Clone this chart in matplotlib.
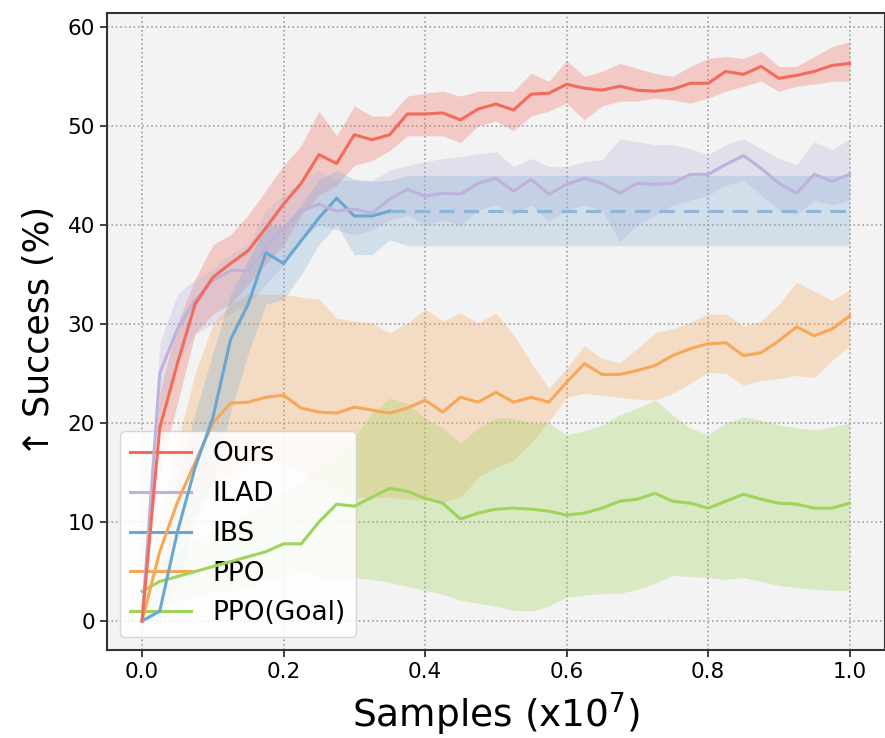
import matplotlib
matplotlib.use("Agg")
import matplotlib.pyplot as plt
import numpy as np

# sample grid, x1e7 (41 evaluation points)
samples = np.linspace(0.0, 1.0, 41)

ours = [0, 19.5, 26, 32, 34.7, 36.1, 37.4, 39.7, 42.1, 44.2, 47.1, 46.2, 49.1, 48.6,
        49.1, 51.2, 51.2, 51.3, 50.6, 51.7, 52.2, 51.6, 53.2, 53.3, 54.2, 53.8, 53.6,
        54.0, 53.6, 53.5, 53.7, 54.3, 54.3, 55.5, 55.2, 56.0, 54.8, 55.1, 55.5, 56.1, 56.3]
ours_lo = [0, 15, 22, 29, 31, 32, 34, 36, 38, 41, 43, 44, 46, 46.5, 47.5, 49, 49, 49,
           48.3, 50, 50.5, 49.5, 51, 51.5, 52.3, 50.6, 52, 52.5, 52.5, 52.8, 52.6, 52.3,
           52.8, 53.5, 54, 54.5, 53.5, 54, 54.2, 54.5, 54.5]
ours_hi = [0, 23, 30, 34.5, 38, 39, 41, 43.5, 46, 48, 51.5, 49, 52, 51, 51, 53, 53.3,
           53.5, 53, 53.5, 53.5, 53.5, 55.3, 54.5, 56.6, 55, 55.5, 56.3, 55.8, 55.3, 55,
           56, 56.8, 57, 56.8, 57.5, 56, 56, 57, 58, 58.5]

ilad = [0, 25, 29.5, 32.4, 34.4, 35.4, 35.4, 37.7, 39.7, 41.4, 42.1, 41.4, 41.6, 41.2,
        42.6, 43.6, 42.9, 43.2, 43.1, 44.2, 44.7, 43.4, 44.6, 43.1, 44.1, 44.7, 44.2,
        43.2, 44.2, 44.1, 44.2, 45.1, 45.1, 46.1, 47.0, 45.7, 44.2, 43.2, 45.1, 44.4, 45.1]
ilad_lo = [0, 21, 26, 29, 30, 31, 32, 34, 36, 38.5, 40, 39.5, 39, 39.5, 40.5, 41, 40,
           40.5, 40, 41.5, 42, 41, 42, 40.4, 41.5, 42, 41.5, 38.3, 40, 41, 42, 42.5, 43,
           44, 44.5, 43, 41.5, 41, 42.5, 42, 42.5]
ilad_hi = [0, 28, 33, 34.5, 35.5, 37, 38, 41.5, 43, 44.5, 45.5, 44.5, 44.5, 44.5, 45.5,
           46, 46.4, 46.7, 46.9, 47.2, 47.4, 45.9, 46.7, 45.9, 45.9, 46.4, 46.6, 48.7,
           48.4, 48.1, 48.1, 47.7, 47.1, 48.1, 48.7, 47.7, 46.7, 46.1, 48.4, 47.6, 48.7]

# IBS trained up to 0.35e7, final value carried forward (dashed)
ibs = [0, 1, 9, 15.5, 20.5, 28.4, 32, 37.2, 36.1, 38.4, 40.7, 42.7, 40.9, 40.9, 41.4]
ibs_final = 41.4
ibs_lo = [0, 0, 4, 10, 14, 21, 27, 32, 32.5, 35, 38, 40, 37, 37, 38.5] + [37.9] * 26
ibs_hi = [0, 3, 14, 21, 27, 33, 36.5, 40, 40, 42, 44.5, 45.5, 44.6, 44.4, 44.5] + [45.0] * 26

ppo = [0, 7, 12, 16, 20, 22, 22.1, 22.6, 22.8, 21.5, 21.1, 21.0, 21.6, 21.3, 21.0, 21.5,
       22.3, 21.1, 22.6, 22.1, 23.1, 22.1, 22.6, 22.1, 24.1, 26.0, 24.9, 24.9, 25.3, 25.8,
       26.8, 27.5, 28.0, 28.1, 26.8, 27.1, 28.3, 29.7, 28.8, 29.5, 30.8]
ppo_lo = [0, 4, 8, 11, 14, 15, 16, 16.5, 16, 15, 14, 13, 12.5, 12.5, 12.5, 12.3, 12.2,
          12.0, 12.5, 14.5, 15.5, 16.2, 18, 20.2, 22.6, 23, 22.8, 22.6, 22.4, 22.3, 23,
          24, 25.1, 25, 23.8, 24.3, 24.5, 24.8, 24.6, 26.3, 27.8]
ppo_hi = [0, 10, 18, 25, 30, 32, 33, 33, 33, 32.7, 32.5, 30.6, 30.3, 30.1, 29.1, 30.1,
          31.5, 30.3, 31.1, 30.1, 31.1, 28.9, 26.1, 23.5, 25.5, 27.8, 26.5, 26.1, 27.5,
          29.1, 29.5, 30.2, 31, 31, 29.8, 30.3, 32, 34.2, 33.3, 32.4, 33.4]

goal = [3, 4, 4.5, 5, 5.5, 6, 6.5, 7, 7.8, 7.8, 10, 11.8, 11.6, 12.5, 13.4, 13.1, 12.4,
        11.9, 10.3, 10.9, 11.3, 11.4, 11.3, 11.1, 10.7, 10.9, 11.4, 12.1, 12.3, 12.9,
        12.1, 11.9, 11.4, 12.1, 12.8, 12.3, 11.9, 11.8, 11.4, 11.4, 11.9]
goal_lo = [1, 2, 2, 2.5, 3, 3, 3.5, 4, 4.5, 5, 4.5, 4.3, 4.4, 4.2, 3.9, 3.5, 3.1, 2.7,
           2.1, 1.8, 1.5, 1.1, 1.0, 1.5, 2.4, 2.6, 2.8, 2.8, 3.2, 3.8, 4.6, 4.5, 4.4, 4.2,
           4.4, 4.0, 3.6, 3.4, 3.2, 3.1, 3.1]
goal_hi = [5, 6, 7, 8, 9, 10, 11, 12, 13, 14, 16, 17, 18.5, 21, 22.5, 22, 20.5, 19.5,
           18, 19.5, 20.5, 20.5, 20, 20, 18.8, 19.2, 19.8, 20.8, 21.5, 22.3, 20.8, 19.5,
           18.8, 20, 20.6, 20.3, 19.8, 19.5, 19.3, 19.6, 20.0]

colors = {
    "Ours": "#f26b5b",
    "ILAD": "#bcb2dc",
    "IBS": "#6ba6d0",
    "PPO": "#f7a758",
    "PPO(Goal)": "#a0d35a",
}

fig = plt.figure(figsize=(8.85, 7.38), dpi=100)
ax = fig.add_axes([0.1205, 0.1192, 0.8795, 0.8636])
ax.set_facecolor("#f3f3f3")

series = [
    ("Ours", ours, ours_lo, ours_hi),
    ("ILAD", ilad, ilad_lo, ilad_hi),
    ("PPO", ppo, ppo_lo, ppo_hi),
    ("PPO(Goal)", goal, goal_lo, goal_hi),
]
handles = {}
for k, (name, y, lo, hi) in enumerate(series):
    c = colors[name]
    ax.fill_between(samples, lo, hi, color=c, alpha=0.3, linewidth=0, zorder=1)
    (h,) = ax.plot(samples, y, color=c, lw=2.2, label=name, zorder=10 - k)
    handles[name] = h

# IBS: solid while trained, dashed afterwards
n_ibs = len(ibs)
ax.fill_between(samples, ibs_lo, ibs_hi, color=colors["IBS"], alpha=0.25,
                linewidth=0, zorder=1)
(h,) = ax.plot(samples[:n_ibs], ibs, color=colors["IBS"], lw=2.2, label="IBS", zorder=8.5)
handles["IBS"] = h
ax.plot(samples[n_ibs - 1:], np.full(len(samples) - n_ibs + 1, ibs_final),
        color="#8fb6d8", lw=2.2, ls=(0, (5, 3)), zorder=8.5)

ax.set_xticks([0.0, 0.2, 0.4, 0.6, 0.8, 1.0])
ax.set_yticks([0, 10, 20, 30, 40, 50, 60])
ax.grid(True, ls=":", color="#a0a0a0", lw=1.2)
ax.set_axisbelow(True)
ax.tick_params(labelsize=15.5, length=5, width=1.3, color="#333333")
for sp in ax.spines.values():
    sp.set_color("#333333")
    sp.set_linewidth(1.5)

ax.set_xlabel("Samples (x10$^7$)", fontsize=27, labelpad=6)
ax.set_ylabel("\u2191 Success (%)", fontsize=25, labelpad=8)

order = ["Ours", "ILAD", "IBS", "PPO", "PPO(Goal)"]
ax.legend([handles[n] for n in order], order, loc="lower left", fontsize=19,
          handlelength=2.3, handletextpad=0.8, labelspacing=0.52,
          framealpha=0.85, edgecolor="#d0d0d0", fancybox=True)

fig.savefig("out.png", dpi=100)
